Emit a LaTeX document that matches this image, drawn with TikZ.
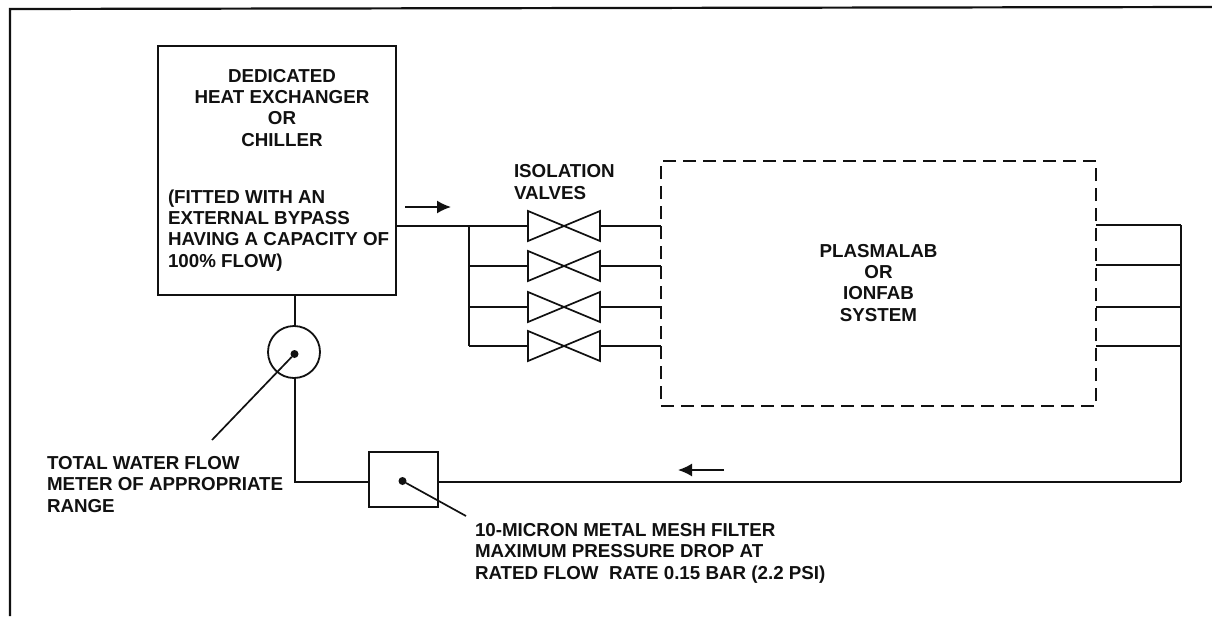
\documentclass[tikz,border=0pt]{standalone}
\usepackage{fontspec}
\setmainfont{Liberation Sans}
\usetikzlibrary{arrows.meta,calc}
\definecolor{ink}{HTML}{111111}
\tikzset{
  wire/.style={draw=ink,line width=1.7pt},
  heavy/.style={draw=ink,line width=2.2pt},
  boxnode/.style={draw=ink,line width=1.8pt,inner sep=0pt,outer sep=0pt,rectangle},
  valvebox/.style={inner sep=0pt,outer sep=0pt,minimum width=72pt,minimum height=30pt},
  dot/.style={circle,fill=ink,inner sep=0pt,outer sep=0pt,minimum size=8pt},
  label/.style={font=\bfseries\fontsize{18.75pt}{21.2pt}\selectfont,text=ink,inner sep=0pt,outer sep=0pt},
  flow/.style={draw=ink,line width=1.7pt,-{Latex[length=14pt,width=13pt]}}
}
\begin{document}
\begin{tikzpicture}[x=1pt,y=-1pt]
\useasboundingbox (0,0) rectangle (1212,616);
\fill[white] (0,0) rectangle (1212,616);
% outer frame
\coordinate (fa) at (10,616);
\coordinate (fb) at (10,9);
\coordinate (fc) at (1212,7);
\draw[heavy,line join=miter] (fa) -- (fb) -- (fc);
% main components
\node[boxnode,minimum width=238pt,minimum height=249pt] (hx) at (277,170.5) {};
\node[boxnode,circle,minimum size=52pt] (meter) at (294,352) {};
\node[boxnode,minimum width=69pt,minimum height=55pt] (filter) at (403.5,479.5) {};
\node[boxnode,dash pattern=on 13pt off 7pt,minimum width=435pt,minimum height=245pt] (sys) at (878.5,283.5) {};
\node[dot] (md) at (294.5,354) {};
\node[dot] (fd) at (402.5,481) {};
% valves
\foreach \n/\y in {1/226,2/266,3/307,4/346}{
  \node[valvebox] (v\n) at (564,\y) {};
  \draw[wire,line join=miter] (v\n.north west) -- (v\n.south east) -- (v\n.north east) -- (v\n.south west) -- cycle;
  \coordinate (bus\n) at (469,\y);
  \draw[wire] (v\n.east) -- (v\n.east -| sys.west);
  \draw[wire] (bus\n) -- (v\n.west);
}
\draw[wire] (hx.east |- v1) -- (bus1);
\draw[wire] (bus1) -- (bus4);
% outlets
\coordinate (col1) at (1181,225);
\coordinate (col2) at (1181,265);
\coordinate (col3) at (1181,307);
\coordinate (col4) at (1181,346);
\coordinate (colend) at (1181,482);
\foreach \n in {1,2,3,4}{\draw[wire] (sys.east |- col\n) -- (col\n);}
\draw[wire] (col1) -- (colend);
\draw[wire,line join=miter] (colend) -- (filter.east |- colend);
% return path
\coordinate (corner) at (295,482);
\draw[wire] (hx.south -| corner) -- (meter.north -| corner);
\draw[wire,line join=miter] (meter.south -| corner) -- (corner) -- (filter.west |- corner);
% leaders
\coordinate (ml) at (212,440);
\coordinate (fl) at (466,516);
\draw[wire] (md) -- (ml);
\draw[wire] (fd) -- (fl);
% flow arrows
\coordinate (a1) at (405,207);
\coordinate (a2) at (451,207);
\coordinate (b1) at (724,470);
\coordinate (b2) at (678,470);
\draw[flow] (a1) -- (a2);
\draw[flow] (b1) -- (b2);
% labels
\node[label,align=center,anchor=base] (t1) at (282,146) {DEDICATED\\HEAT EXCHANGER\\OR\\CHILLER};
\node[label,align=left,anchor=base west] (t2) at (168,267) {(FITTED WITH AN\\EXTERNAL BYPASS\\HAVING A CAPACITY OF\\100\% FLOW)};
\node[label,align=left,anchor=base west] (t3) at (514,199) {ISOLATION\\VALVES};
\node[label,align=center,anchor=base] (t4) at (878.5,321) {PLASMALAB\\OR\\IONFAB\\SYSTEM};
\node[label,align=left,anchor=base west] (t5) at (47,512) {TOTAL WATER FLOW\\METER OF APPROPRIATE\\RANGE};
\node[label,align=left,anchor=base west] (t6) at (475,579) {10-MICRON METAL MESH FILTER\\MAXIMUM PRESSURE DROP AT\\RATED FLOW\ \ RATE 0.15 BAR (2.2 PSI)};
\end{tikzpicture}
\end{document}
